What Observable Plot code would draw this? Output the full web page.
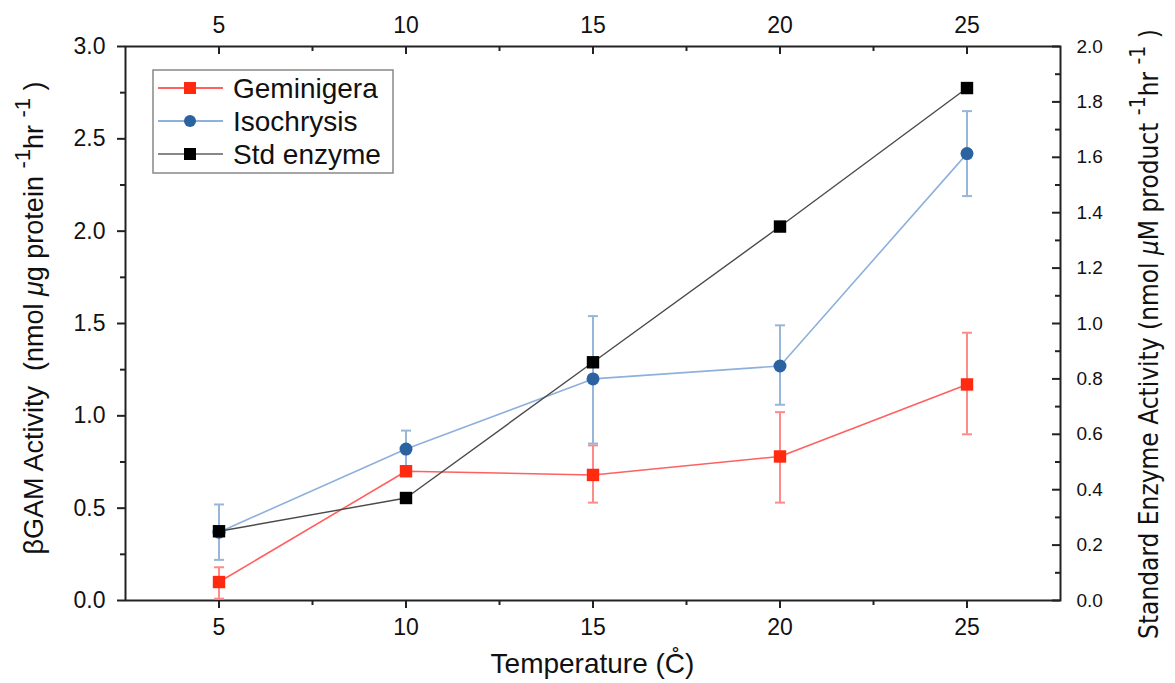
<!DOCTYPE html>
<html><head><meta charset="utf-8">
<script src="https://cdn.jsdelivr.net/npm/d3@7"></script>
<script src="https://cdn.jsdelivr.net/npm/@observablehq/plot@0.6"></script>
<style>body{margin:0;background:#fff;} svg{display:block}</style>
</head><body><div id="chart"></div>
<script>
// ---- data ----
const temps = [5, 10, 15, 20, 25];
const gemMean = [0.10, 0.70, 0.68, 0.78, 1.17];
const gemLo   = [0.01, 0.68, 0.53, 0.53, 0.90];
const gemHi   = [0.18, 0.72, 0.84, 1.02, 1.45];
const isoMean = [0.37, 0.82, 1.20, 1.27, 2.42];
const isoLo   = [0.22, 0.72, 0.85, 1.06, 2.19];
const isoHi   = [0.52, 0.92, 1.54, 1.49, 2.65];
const stdVals = [0.25, 0.37, 0.86, 1.35, 1.85]; // right axis units
const seriesNames = ["Geminigera", "Isochrysis", "Std enzyme"];
const xTicks = [5, 10, 15, 20, 25];
const xMinor = [7.5, 12.5, 17.5, 22.5];
const leftTicks = [0, 0.5, 1.0, 1.5, 2.0, 2.5, 3.0];
const leftMinor = [0.25, 0.75, 1.25, 1.75, 2.25, 2.75];
const rightTicks = [0, 0.2, 0.4, 0.6, 0.8, 1.0, 1.2, 1.4, 1.6, 1.8, 2.0];
const rightMinor = [0.1, 0.3, 0.5, 0.7, 0.9, 1.1, 1.3, 1.5, 1.7, 1.9];
const leftMax = 3.0, rightMax = 2.0;
const ratio = leftMax / rightMax;

const gem = temps.map((t, i) => ({t, v: gemMean[i], lo: gemLo[i], hi: gemHi[i]}));
const iso = temps.map((t, i) => ({t, v: isoMean[i], lo: isoLo[i], hi: isoHi[i]}));
const std = temps.map((t, i) => ({t, v: stdVals[i] * ratio}));

const W = 1175, H = 683, mL = 125, mR = 115, mT = 46, mB = 83;
const innerW = W - mL - mR, innerH = H - mT - mB;

const RED = "#ff2a10", REDL = "#ff6060", REDE = "#ff8a8a";
const BLUE = "#2a63a0", BLUEL = "#8db0dc", BLUEE = "#98b6da";
const BLK = "#000000", BLKL = "#4a4a4a";
const AX = "#222";

const cap = {draw(ctx, size) { const r = Math.sqrt(size / Math.PI); ctx.moveTo(-r, 0); ctx.lineTo(r, 0); }};

const fmt1 = d3.format(".1f");

const chart = Plot.plot({
  width: W, height: H,
  marginLeft: mL, marginRight: mR, marginTop: mT, marginBottom: mB,
  style: {fontFamily: "'Liberation Sans', Arial, sans-serif", fontSize: "22px", color: AX, background: "#fff"},
  x: {domain: [2.5, 27.5]},
  y: {domain: [0, leftMax]},
  marks: [
    // left axis
    Plot.axisY({anchor: "left", ticks: leftTicks, tickFormat: fmt1, tickSize: 8, tickPadding: 12, strokeWidth: 2, fontSize: 23, label: null, fill: "#111"}),
    Plot.axisY({anchor: "left", ticks: leftMinor, tickFormat: () => "", tickSize: 5, strokeWidth: 2, label: null}),
    // right axis (labels only, inward ticks)
    Plot.axisY({anchor: "right", ticks: rightTicks.map(v => v * ratio), tickFormat: d => fmt1(d / ratio), tickSize: 0, tickPadding: 16, fontSize: 19, label: null, fill: "#111"}),
    Plot.tickY(rightTicks.map(v => v * ratio), {y: d => d, insetLeft: innerW - 8, stroke: AX, strokeWidth: 2}),
    Plot.tickY(rightMinor.map(v => v * ratio), {y: d => d, insetLeft: innerW - 5, stroke: AX, strokeWidth: 2}),
    // bottom axis
    Plot.axisX({anchor: "bottom", ticks: xTicks, tickFormat: d => String(d), tickSize: 8, tickPadding: 10, strokeWidth: 2, fontSize: 23, label: null, fill: "#111"}),
    Plot.axisX({anchor: "bottom", ticks: xMinor, tickFormat: () => "", tickSize: 5, strokeWidth: 2, label: null}),
    // top axis (labels, inward ticks)
    Plot.axisX({anchor: "top", ticks: xTicks, tickFormat: d => String(d), tickSize: 0, tickPadding: 14, fontSize: 23, label: null, fill: "#111"}),
    Plot.tickX(xTicks, {x: d => d, insetBottom: innerH - 8, stroke: AX, strokeWidth: 2}),
    Plot.tickX(xMinor, {x: d => d, insetBottom: innerH - 5, stroke: AX, strokeWidth: 2}),
    Plot.frame({stroke: AX, strokeWidth: 2}),
    // error bars
    Plot.ruleX(gem, {x: "t", y1: "lo", y2: "hi", stroke: REDE, strokeWidth: 2}),
    Plot.dot(gem, {x: "t", y: "lo", symbol: cap, r: 5, fill: "none", stroke: REDE, strokeWidth: 2}),
    Plot.dot(gem, {x: "t", y: "hi", symbol: cap, r: 5, fill: "none", stroke: REDE, strokeWidth: 2}),
    Plot.ruleX(iso, {x: "t", y1: "lo", y2: "hi", stroke: BLUEE, strokeWidth: 2}),
    Plot.dot(iso, {x: "t", y: "lo", symbol: cap, r: 5, fill: "none", stroke: BLUEE, strokeWidth: 2}),
    Plot.dot(iso, {x: "t", y: "hi", symbol: cap, r: 5, fill: "none", stroke: BLUEE, strokeWidth: 2}),
    // lines
    Plot.line(gem, {x: "t", y: "v", stroke: REDL, strokeWidth: 1.6}),
    Plot.line(iso, {x: "t", y: "v", stroke: BLUEL, strokeWidth: 1.6}),
    Plot.line(std, {x: "t", y: "v", stroke: BLKL, strokeWidth: 1.4}),
    // markers
    Plot.dot(gem, {x: "t", y: "v", symbol: "square", r: 7, fill: RED, stroke: "none"}),
    Plot.dot(iso, {x: "t", y: "v", symbol: "circle", r: 6.5, fill: BLUE, stroke: "none"}),
    Plot.dot(std, {x: "t", y: "v", symbol: "square", r: 7, fill: BLK, stroke: "none"})
  ]
});

document.getElementById("chart").append(chart);

const svg = d3.select(chart);
const FF = "'Liberation Sans', Arial, sans-serif";

// x axis title
svg.append("text").attr("x", mL + innerW / 2).attr("y", 673).attr("text-anchor", "middle")
  .attr("font-family", FF).attr("font-size", 28).attr("fill", "#111")
  .text("Temperature (C\u030A)");

// left axis title
const lt = svg.append("text").attr("transform", "translate(43,318) rotate(-90)").attr("text-anchor", "middle")
  .attr("font-family", FF).attr("font-size", 27).attr("fill", "#111");
lt.append("tspan").text("βGAM Activity\u00a0\u00a0(nmol ");
lt.append("tspan").text("μ").attr("font-style", "italic");
lt.append("tspan").text("g protein ");
lt.append("tspan").text("-1").attr("dy", -13).attr("font-size", 22);
lt.append("tspan").text("hr ").attr("dy", 13);
lt.append("tspan").text("-1").attr("dy", -13).attr("font-size", 22);
lt.append("tspan").text(" )").attr("dy", 13);

// right axis title
const rt = svg.append("text").attr("transform", "translate(1158,334) rotate(-90)").attr("text-anchor", "middle")
  .attr("font-family", "'Liberation Sans Narrow', 'DejaVu Sans Condensed', Arial, sans-serif").attr("font-size", 26).attr("fill", "#111");
rt.append("tspan").text("Standard Enzyme Activity (nmol ");
rt.append("tspan").text("μ").attr("font-style", "italic");
rt.append("tspan").text("M product ");
rt.append("tspan").text("-1").attr("dy", -13).attr("font-size", 21);
rt.append("tspan").text("hr ").attr("dy", 13);
rt.append("tspan").text("-1").attr("dy", -13).attr("font-size", 21);
rt.append("tspan").text(" )").attr("dy", 13);

// legend
const lg = svg.append("g");
lg.append("rect").attr("x", 153).attr("y", 70).attr("width", 240).attr("height", 103)
  .attr("fill", "#fff").attr("stroke", "#888").attr("stroke-width", 1.5);
const legendStyles = [
  {line: REDL, fill: RED, shape: "square"},
  {line: BLUEL, fill: BLUE, shape: "circle"},
  {line: "#888", fill: BLK, shape: "square"}
];
seriesNames.forEach((name, i) => {
  const yy = 88 + i * 33;
  const s = legendStyles[i];
  lg.append("line").attr("x1", 158).attr("x2", 223).attr("y1", yy).attr("y2", yy).attr("stroke", s.line).attr("stroke-width", 2);
  if (s.shape === "square") lg.append("rect").attr("x", 184).attr("y", yy - 6).attr("width", 12).attr("height", 12).attr("fill", s.fill);
  else lg.append("circle").attr("cx", 190).attr("cy", yy).attr("r", 6).attr("fill", s.fill);
  lg.append("text").attr("x", 233).attr("y", yy).attr("dy", "0.35em").attr("text-anchor", "start")
    .attr("font-family", FF).attr("font-size", 28).attr("fill", "#111").text(name);
});
</script>
</body></html>
